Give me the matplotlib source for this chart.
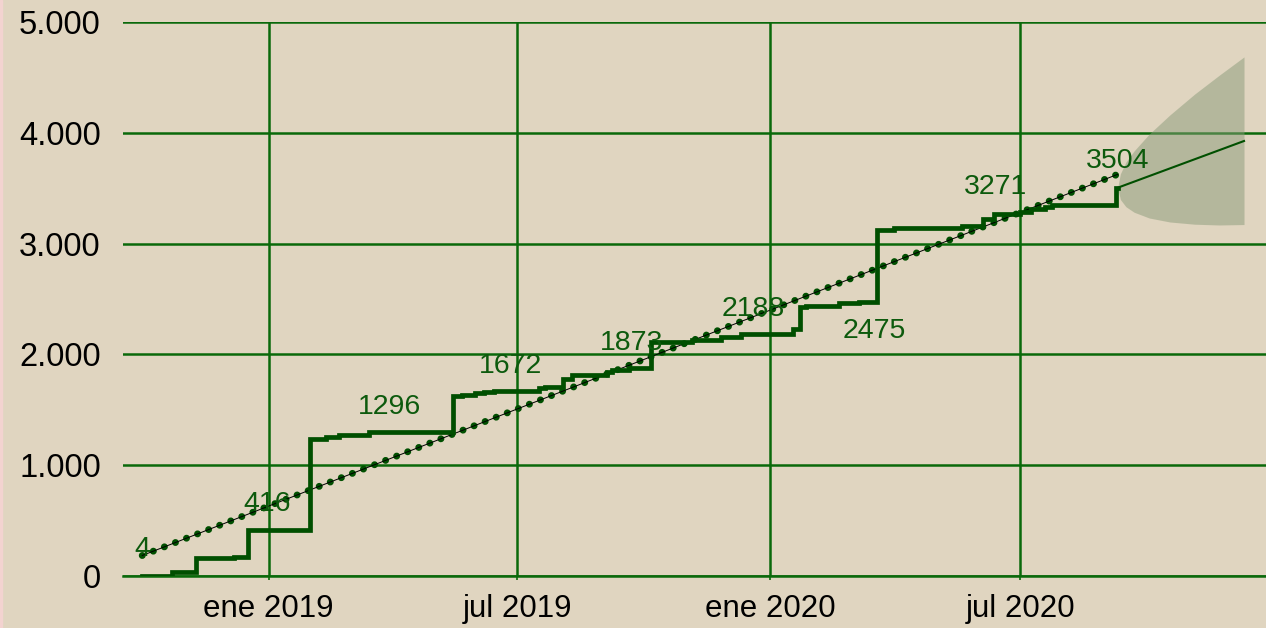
import matplotlib
matplotlib.use('Agg')
import matplotlib.pyplot as plt
import pandas as pd
from matplotlib.patches import Rectangle

# cumulative total, one entry per change of level
step_dates = ['2018-10-01', '2018-10-23', '2018-11-09', '2018-12-07', '2018-12-17',
              '2019-01-31', '2019-02-12', '2019-02-21', '2019-03-15',
              '2019-05-15', '2019-05-22', '2019-05-31', '2019-06-07', '2019-06-14',
              '2019-07-17', '2019-07-21', '2019-08-03', '2019-08-10', '2019-09-04',
              '2019-09-08', '2019-09-20',
              '2019-10-06', '2019-11-05', '2019-11-26', '2019-12-11',
              '2020-01-18', '2020-01-23', '2020-01-27', '2020-02-20', '2020-03-06',
              '2020-03-19', '2020-03-31', '2020-05-20', '2020-06-04', '2020-06-12',
              '2020-07-01', '2020-07-09', '2020-07-19', '2020-07-24', '2020-09-09',
              '2020-09-10']
step_values = [4, 40, 160, 175, 416,
               1234, 1252, 1270, 1296,
               1625, 1636, 1649, 1663, 1672,
               1694, 1709, 1775, 1815, 1840,
               1862, 1873,
               2112, 2130, 2160, 2188,
               2230, 2425, 2435, 2461, 2475,
               3123, 3144, 3155, 3219, 3271,
               3288, 3312, 3333, 3352, 3499,
               3504]

# linear trend over the whole period
trend_dates = ['2018-10-01', '2020-09-10']
trend_values = [185, 3625]

# forecast and its uncertainty band
fc_dates = ['2020-09-10', '2020-12-11']
fc_values = [3504, 3926]
band_dates = ['2020-09-10', '2020-09-12', '2020-09-16', '2020-09-22', '2020-10-03',
              '2020-10-18', '2020-11-05', '2020-11-23', '2020-12-11']
band_upper = [3504, 3630, 3735, 3837, 3989, 4161, 4349, 4520, 4685]
band_lower = [3504, 3398, 3333, 3283, 3231, 3195, 3175, 3168, 3172]

# labelled values along the series
label_dates = ['2018-10-01', '2018-12-31', '2019-03-30', '2019-06-26', '2019-09-22',
               '2019-12-20', '2020-03-17', '2020-06-13', '2020-09-10']
label_values = [4, 416, 1296, 1672, 1873, 2188, 2475, 3271, 3504]

y_ticks = [0, 1000, 2000, 3000, 4000, 5000]
y_tick_labels = ['0', '1.000', '2.000', '3.000', '4.000', '5.000']
x_ticks = ['2019-01-01', '2019-07-01', '2020-01-01', '2020-07-01']
x_tick_labels = ['ene 2019', 'jul 2019', 'ene 2020', 'jul 2020']

bg = '#e0d5c0'
grid_green = '#0a690a'
line_green = '#004f00'
text_green = '#0d5a0d'

plt.rcParams['font.family'] = ['Liberation Sans', 'DejaVu Sans']

fig = plt.figure(figsize=(12.66, 6.28), dpi=100, facecolor=bg)
fig.patches.append(Rectangle((0, 0), 2 / 1266, 1, transform=fig.transFigure,
                             color='#f3d3d0', zorder=0))
ax = fig.add_axes([123 / 1266, 52 / 628, 1143 / 1266, 554 / 628])
ax.set_facecolor(bg)

# forecast cone and line
ax.fill_between(pd.to_datetime(band_dates), band_lower, band_upper,
                color='#8a9b7a', alpha=0.5, lw=0, zorder=1)
ax.plot(pd.to_datetime(fc_dates), fc_values, color=line_green, lw=1.5, zorder=4)

# trend: green dots with a thin black line through them
td = pd.to_datetime(trend_dates)
ax.plot(td, trend_values, color=line_green, lw=5, linestyle=(0, (0.01, 1.7)),
        dash_capstyle='round', zorder=3)
ax.plot(td, trend_values, color='black', lw=0.7, zorder=3)

# cumulative steps
ax.plot(pd.to_datetime(step_dates), step_values, drawstyle='steps-post',
        color=line_green, lw=3.4, solid_joinstyle='miter', zorder=5)

label_dy = [19, 19, 18, 18, 18, 18, -21, 19, 19]
for d, v, dy in zip(pd.to_datetime(label_dates), label_values, label_dy):
    ax.annotate(str(v), (d, v), xytext=(0, dy), textcoords='offset points',
                ha='center', va='center', fontsize=20.5, color=text_green, zorder=6)

ax.set_xlim(pd.Timestamp('2018-09-17'), pd.Timestamp('2020-12-27'))
ax.set_ylim(0, 5000)

ax.set_yticks(y_ticks)
ax.set_yticklabels(y_tick_labels)
ax.set_xticks(pd.to_datetime(x_ticks))
ax.set_xticklabels(x_tick_labels)
ax.tick_params(axis='y', length=0, pad=16, labelsize=23.5, labelcolor='black')
ax.tick_params(axis='x', length=3, width=1.2, color=grid_green, pad=10,
               labelsize=22.5, labelcolor='black')

ax.grid(True, color=grid_green, lw=1.8, zorder=0)
ax.set_axisbelow(True)
for side in ['top', 'right', 'left']:
    ax.spines[side].set_visible(False)
ax.spines['bottom'].set_color(grid_green)
ax.spines['bottom'].set_linewidth(1.8)

fig.savefig('out.png', dpi=100, facecolor=bg)
